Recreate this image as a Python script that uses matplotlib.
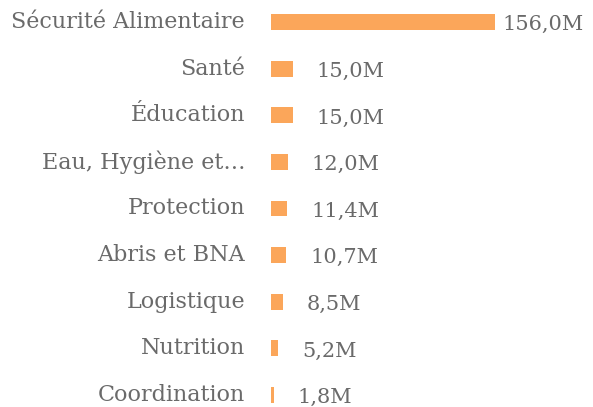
import matplotlib.pyplot as plt
import numpy as np

plt.rcParams['font.family'] = ['DejaVu Serif']

categories = ["Sécurité Alimentaire", "Santé", "Éducation", "Eau, Hygiène et…",
              "Protection", "Abris et BNA", "Logistique", "Nutrition", "Coordination"]
values = [156.0, 15.0, 15.0, 12.0, 11.4, 10.7, 8.5, 5.2, 1.8]
labels = ["156,0M", "15,0M", "15,0M", "12,0M", "11,4M", "10,7M", "8,5M", "5,2M", "1,8M"]

fig = plt.figure(figsize=(5.93, 4.07), dpi=100)
ax = fig.add_axes([271 / 593, 0, 322 / 593, 1])

y = np.arange(len(categories))
ax.barh(y, values, height=0.34, color='#fba65a')

ax.set_xlim(0, 156 * 322 / 224)
ax.set_ylim(8.26, -0.472)

for i, (v, lab) in enumerate(zip(values, labels)):
    off = 5 if i == 0 else 17
    ax.annotate(lab, (v, i), xytext=(off, -2), textcoords='offset points',
                ha='left', va='center', fontsize=15, color='#6a6a6a')
    fig.text(245 / 593, 1 - (22 + i * 46.6) / 407, categories[i],
             ha='right', va='center', fontsize=16, color='#6a6a6a')

ax.axis('off')
fig.savefig('out.png', dpi=100)
